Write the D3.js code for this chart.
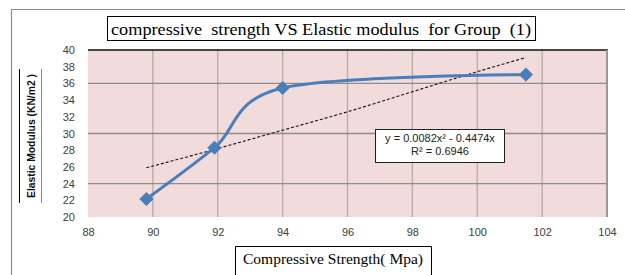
<!DOCTYPE html>
<html><head><meta charset="utf-8">
<script src="https://cdn.jsdelivr.net/npm/d3@7"></script>
<style>
html,body{margin:0;padding:0;background:#fff;}
svg{display:block;}
</style></head>
<body>
<svg id="chart" width="625" height="275"></svg>
<script>
// ---- data ----
const strength = [89.8, 91.9, 94.0, 101.5];           // Compressive Strength (Mpa)
const modulus  = [22.15, 28.3, 35.45, 37.05];         // Elastic Modulus (KN/m2)
const trendX   = [89.8, 92, 94, 96, 98, 100, 101.5];  // dashed trendline
const trendY   = [25.9, 28.2, 30.4, 32.6, 35.0, 37.4, 39.1];
const xTicks   = [88, 90, 92, 94, 96, 98, 100, 102, 104];
const yTicks   = [20, 22, 24, 26, 28, 30, 32, 34, 36, 38, 40];
const yGrid    = [24, 30, 36];
const titleText = "compressive  strength VS Elastic modulus  for Group  (1)";
const xTitle = "Compressive Strength( Mpa)";
const yTitle = "Elastic Modulus (KN/m2 )";
const eqLines = ["y = 0.0082x\u00B2 - 0.4474x", "R\u00B2 = 0.6946"];

// ---- layout ----
const svg = d3.select("#chart");
const L = 88, R = 607, T = 50, B = 217;
const x = d3.scaleLinear().domain([88, 104]).range([L, R]);
const y = d3.scaleLinear().domain([20, 40]).range([B, T]);

// outer frame (cut off at right/bottom)
svg.append("path").attr("d", "M11.5,275 V9.5 H625")
  .attr("fill", "none").attr("stroke", "#8c8c8c").attr("stroke-width", 1.2);

// plot area
svg.append("rect").attr("x", L).attr("y", T).attr("width", R - L).attr("height", B - T)
  .attr("fill", "#f2dcdb");

// vertical gridlines
svg.append("g").selectAll("line").data(xTicks.slice(1, -1)).join("line")
  .attr("x1", d => x(d)).attr("x2", d => x(d)).attr("y1", T).attr("y2", B)
  .attr("stroke", "#b8a8a8").attr("stroke-width", 1.3);
// horizontal gridlines
svg.append("g").selectAll("line").data(yGrid).join("line")
  .attr("x1", L).attr("x2", R).attr("y1", d => y(d)).attr("y2", d => y(d))
  .attr("stroke", "#8c8c8c").attr("stroke-width", 1.3);
// borders
svg.append("line").attr("x1", L).attr("x2", R + 1).attr("y1", T).attr("y2", T)
  .attr("stroke", "#111").attr("stroke-width", 1.5);
svg.append("line").attr("x1", R).attr("x2", R).attr("y1", T).attr("y2", B)
  .attr("stroke", "#999").attr("stroke-width", 2);

// axes (labels only)
const tickFont = "'Liberation Sans', Arial, sans-serif";
const gx = svg.append("g").attr("transform", `translate(0,${B + 11})`)
  .call(d3.axisBottom(x).tickValues(xTicks).tickSize(0).tickPadding(0).tickFormat(d3.format("d")));
gx.select(".domain").remove();
gx.selectAll("text").attr("font-family", tickFont).attr("font-size", 11).attr("fill", "#404040");

const gy = svg.append("g").attr("transform", `translate(${L - 13},0)`)
  .call(d3.axisLeft(y).tickValues(yTicks).tickSize(0).tickPadding(0).tickFormat(d3.format("d")));
gy.select(".domain").remove();
gy.selectAll("text").attr("font-family", tickFont).attr("font-size", 11).attr("fill", "#404040");

// trendline (dashed)
const trendPts = trendX.map((v, i) => [v, trendY[i]]);
svg.append("path").datum(trendPts)
  .attr("d", d3.line().x(d => x(d[0])).y(d => y(d[1])).curve(d3.curveMonotoneX))
  .attr("fill", "none").attr("stroke", "#111").attr("stroke-width", 1.1)
  .attr("stroke-dasharray", "3,2");

// smoothed data line
const pts = strength.map((v, i) => [v, modulus[i]]);
svg.append("path").datum(pts)
  .attr("d", d3.line().x(d => x(d[0])).y(d => y(d[1])).curve(d3.curveCatmullRom.alpha(0)))
  .attr("fill", "none").attr("stroke", "#4a7ebb").attr("stroke-width", 3)
  .attr("stroke-linecap", "round");

// diamond markers
svg.append("g").selectAll("path").data(pts).join("path")
  .attr("transform", d => `translate(${x(d[0])},${y(d[1])})`)
  .attr("d", d3.symbol(d3.symbolDiamond2, 110)())
  .attr("fill", "#4a7ebb").attr("stroke", "#4a7ebb").attr("stroke-width", 1);

// equation box
const eq = svg.append("g");
eq.append("rect").attr("x", 375.5).attr("y", 129.5).attr("width", 129).attr("height", 33)
  .attr("fill", "#fff").attr("stroke", "#222").attr("stroke-width", 1);
eq.selectAll("text").data(eqLines).join("text")
  .attr("x", 440).attr("y", (d, i) => 142 + i * 13)
  .attr("text-anchor", "middle").attr("font-family", tickFont).attr("font-size", 11)
  .attr("fill", "#222").text(d => d);

// title box
svg.append("rect").attr("x", 107.5).attr("y", 16.5).attr("width", 428).attr("height", 24)
  .attr("fill", "#fff").attr("stroke", "#000").attr("stroke-width", 1);
svg.append("text").attr("x", 321).attr("y", 34.5).attr("text-anchor", "middle")
  .attr("font-family", "'Liberation Serif', 'Times New Roman', serif").attr("font-size", 17)
  .attr("textLength", 420).attr("lengthAdjust", "spacingAndGlyphs")
  .attr("xml:space", "preserve").style("white-space", "pre")
  .attr("fill", "#000").text(titleText);

// x title box
svg.append("path").attr("d", "M235.5,276 V246.5 H431.5 V276")
  .attr("fill", "none").attr("stroke", "#000").attr("stroke-width", 1);
svg.append("text").attr("x", 333).attr("y", 264).attr("text-anchor", "middle")
  .attr("font-family", "'Liberation Serif', 'Times New Roman', serif").attr("font-size", 15.5)
  .attr("fill", "#000").text(xTitle);

// y title with side lines
svg.append("line").attr("x1", 19.5).attr("x2", 19.5).attr("y1", 69).attr("y2", 203)
  .attr("stroke", "#000").attr("stroke-width", 1);
svg.append("line").attr("x1", 41.5).attr("x2", 41.5).attr("y1", 69).attr("y2", 203)
  .attr("stroke", "#888").attr("stroke-width", 1);
svg.append("text").attr("transform", "translate(34.5,136) rotate(-90)")
  .attr("text-anchor", "middle").attr("font-family", tickFont).attr("font-size", 11)
  .attr("font-weight", "bold").attr("textLength", 124).attr("lengthAdjust", "spacingAndGlyphs")
  .attr("fill", "#111").text(yTitle);
</script>
</body></html>
